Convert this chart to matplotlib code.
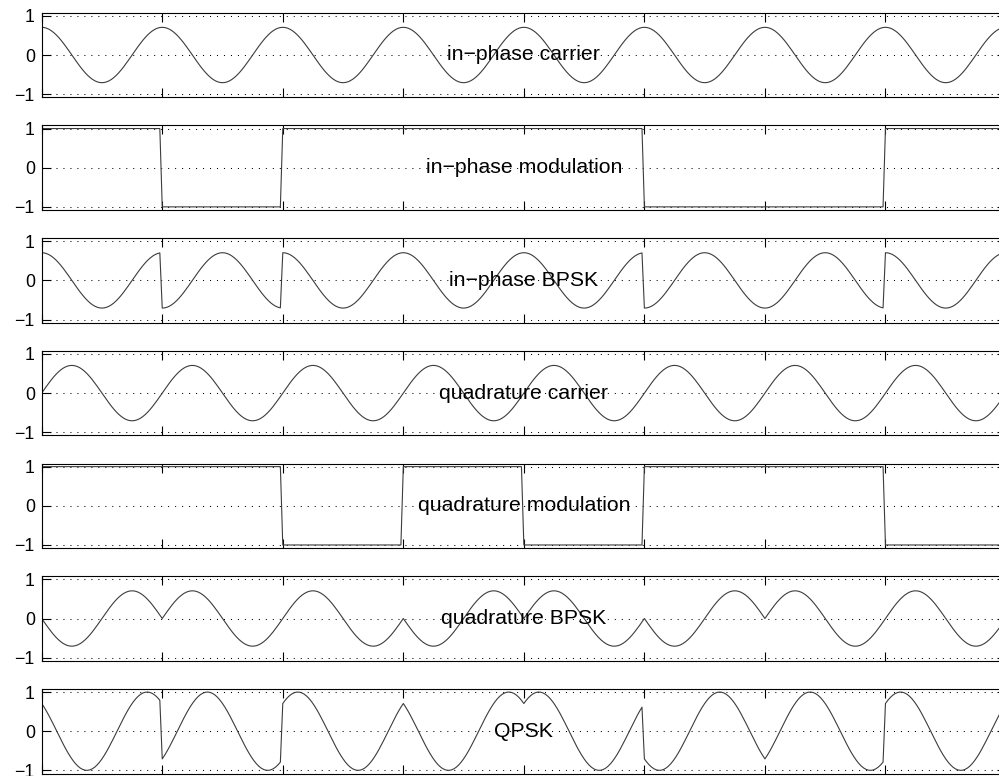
import numpy as np
import matplotlib.pyplot as plt

plt.rcParams['font.family'] = ['Liberation Sans', 'DejaVu Sans']

# ---------------------------------------------------------------------------
# data: one value per symbol period
# ---------------------------------------------------------------------------
I_BITS = [1, -1, 1, 1, 1, -1, -1, 1]          # in-phase modulation panel
Q_MOD_BITS = [1, 1, -1, 1, -1, 1, 1, -1]      # quadrature modulation panel
Q_BPSK_BITS = [-1, 1, 1, -1, 1, -1, 1, 1]     # signs seen on the quadrature BPSK panel

CARRIER_AMP = 0.707
CYCLES_PER_BIT = 1
SAMPLES_PER_BIT = 50

LABELS = [
    "in\u2212phase carrier",
    "in\u2212phase modulation",
    "in\u2212phase BPSK",
    "quadrature carrier",
    "quadrature modulation",
    "quadrature BPSK",
    "QPSK",
]
Y_TICKS = [-1, 0, 1]

# ---------------------------------------------------------------------------
# build the waveforms
# ---------------------------------------------------------------------------
n_bits = len(I_BITS)
n = n_bits * SAMPLES_PER_BIT + 1
t = np.arange(n) / SAMPLES_PER_BIT
idx = np.minimum(np.arange(n) // SAMPLES_PER_BIT, n_bits - 1)

i_carrier = CARRIER_AMP * np.cos(2 * np.pi * CYCLES_PER_BIT * t)
q_carrier = CARRIER_AMP * np.sin(2 * np.pi * CYCLES_PER_BIT * t)
i_mod = np.array(I_BITS)[idx]
q_mod = np.array(Q_MOD_BITS)[idx]
i_bpsk = i_mod * i_carrier
q_bpsk = np.array(Q_BPSK_BITS)[idx] * q_carrier
qpsk = i_bpsk + q_bpsk

signals = [i_carrier, i_mod, i_bpsk, q_carrier, q_mod, q_bpsk, qpsk]

# ---------------------------------------------------------------------------
# figure: seven stacked panels, right edge runs just past the image
# ---------------------------------------------------------------------------
W, H = 999, 776
fig = plt.figure(figsize=(W / 100, H / 100), dpi=100)

left_px, right_px = 41.7, 1006.0
top0, step, height = 12.7, 112.7, 84.6

for k, (sig, label) in enumerate(zip(signals, LABELS)):
    top = top0 + step * k
    ax = fig.add_axes([left_px / W, 1 - (top + height) / H,
                       (right_px - left_px) / W, height / H])
    ax.plot(t, sig, color='#3c3c3c', lw=0.8)
    ax.set_xlim(0, n_bits)
    ax.set_ylim(-1.08, 1.08)
    ax.set_xticks(range(n_bits + 1))
    ax.set_xticklabels([])
    ax.set_yticks(Y_TICKS)
    ax.yaxis.grid(True, color='k', linestyle=(0, (1, 5.7)), linewidth=0.75)
    ax.tick_params(direction='in', top=True, right=True, length=6.5,
                   width=0.8, labelsize=12.8, pad=5)
    for sp in ax.spines.values():
        sp.set_linewidth(0.8)
        sp.set_color('k')
    ax.text(n_bits / 2, 0, label, ha='center', va='center', fontsize=15.3)

fig.savefig("out.png", dpi=100)
